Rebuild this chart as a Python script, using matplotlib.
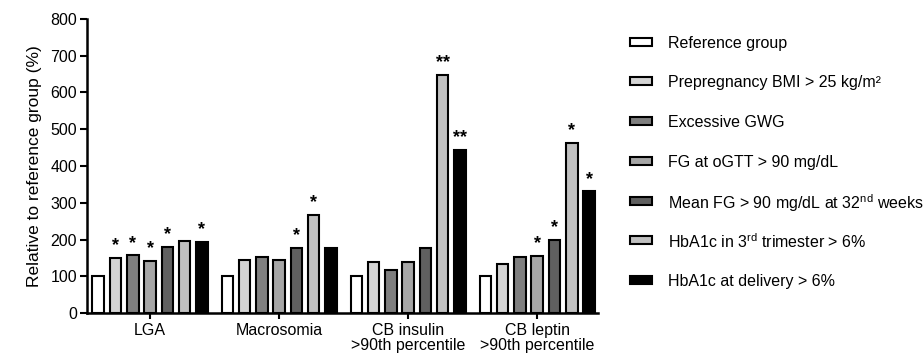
import numpy as np
import matplotlib.pyplot as plt
from matplotlib.patches import Rectangle

plt.rcParams['font.family'] = ['Liberation Sans', 'DejaVu Sans']
plt.rcParams['mathtext.fontset'] = 'custom'
plt.rcParams['mathtext.rm'] = 'Liberation Sans'

# Data
categories = ['LGA', 'Macrosomia', 'CB insulin\n>90th percentile', 'CB leptin\n>90th percentile']
series = [
    'Reference group',
    'Prepregnancy BMI > 25 kg/m\u00b2',
    'Excessive GWG',
    'FG at oGTT > 90 mg/dL',
    'Mean FG > 90 mg/dL at 32$^{\\mathrm{nd}}$ weeks',
    'HbA1c in 3$^{\\mathrm{rd}}$ trimester > 6%',
    'HbA1c at delivery > 6%',
]
values = [
    [100, 100, 100, 100],
    [150, 145, 140, 133],
    [157, 152, 118, 152],
    [141, 145, 139, 156],
    [180, 178, 177, 199],
    [197, 268, 648, 462],
    [193, 178, 444, 331],
]
stars = [
    ['', '', '', ''],
    ['*', '', '', ''],
    ['*', '', '', ''],
    ['*', '', '', '*'],
    ['*', '*', '', '*'],
    ['', '*', '**', '*'],
    ['*', '', '**', '*'],
]
colors = ['white', '#d4d4d4', '#7f7f7f', '#a6a6a6', '#606060', '#c0c0c0', 'black']

fig = plt.figure(figsize=(9.24, 3.57), dpi=100)
ax = fig.add_axes([0.094, 0.123, 0.553, 0.824])

x = np.arange(len(categories))
pitch = 0.134
width = 0.089
for i, (name, vals) in enumerate(zip(series, values)):
    pos = x + (i - 3) * pitch
    ax.bar(pos, vals, width=width, color=colors[i], edgecolor='black', linewidth=1.5)
    for p, v, s in zip(pos, vals, stars[i]):
        if s:
            ax.text(p, v + 10, s, ha='center', va='bottom', fontsize=13, fontweight='bold')

ax.set_xlim(-0.49, 3.47)
ax.set_ylim(0, 800)
ax.set_yticks(range(0, 801, 100))
ax.set_xticks(x)
ax.set_xticklabels(categories, fontsize=11.5, linespacing=1.0)
ax.set_ylabel('Relative to reference group (%)', fontsize=12.5, labelpad=6)
ax.tick_params(axis='y', labelsize=11.5, width=1.5, length=5, pad=2)
ax.tick_params(axis='x', width=1.5, length=4, pad=3)
for side in ['top', 'right']:
    ax.spines[side].set_visible(False)
for side in ['left', 'bottom']:
    ax.spines[side].set_linewidth(1.8)

# legend drawn by hand so rows stay evenly spaced
row0 = 1 - 41.7 / 357
step = 39.7 / 357
for i, name in enumerate(series):
    yc = row0 - i * step
    fig.patches.append(Rectangle((630 / 924, yc - 4 / 357), 22 / 924, 8 / 357,
                                 transform=fig.transFigure, facecolor=colors[i],
                                 edgecolor='black', linewidth=1.5))
    fig.text(668 / 924, yc, name, fontsize=11.5, va='center_baseline', ha='left')

plt.savefig('out.png', dpi=100)
